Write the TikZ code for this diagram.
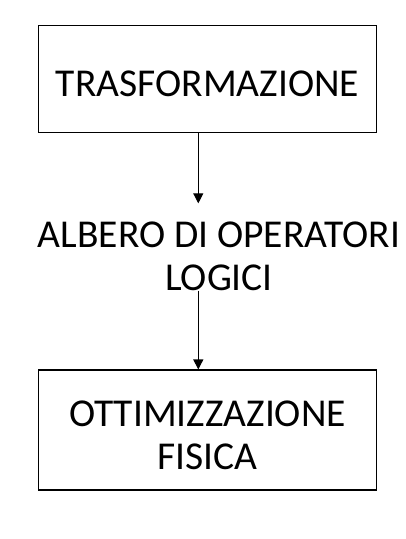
\documentclass[tikz,border=0pt]{standalone}
\usepackage{fontspec}
\setmainfont{Carlito}
\usetikzlibrary{calc,positioning,arrows.meta}
\begin{document}
\begin{tikzpicture}[x=1pt,y=-1pt]
        \tikzset{
            boxnode/.style={draw,line width=1.1pt,minimum width=338pt,inner sep=0pt,align=center,font=\fontsize{39.5}{43}\selectfont},
            txtnode/.style={inner sep=0pt,align=center,font=\fontsize{39.5}{43}\selectfont},
            arr/.style={line width=1.1pt,-{Triangle[width=10pt,length=10pt]}}
        }
        \useasboundingbox (0,0) rectangle (406,539);

        \coordinate (cAxis) at (198.3,0);

        \node[boxnode,minimum height=107pt,text height=36pt,text depth=0pt] (nTrasf) at (207.5,78.7) {TRASFORMAZIONE};
        \node[txtnode] (nAlbero) at (219,256) {ALBERO DI OPERATORI\\LOGICI};
        \node[boxnode,minimum height=120pt,text height=79pt,text depth=0pt] (nOttim) at (207.5,430) {OTTIMIZZAZIONE\\FISICA};

%        arrows on the left axis, not through the text centre
        \draw[arr] (nTrasf.south -| cAxis) -- ($(nAlbero.north -| cAxis)+(0,-18)$);
        \draw[arr] (nAlbero.south -| cAxis) -- (nOttim.north -| cAxis);
\end{tikzpicture}
\end{document}
